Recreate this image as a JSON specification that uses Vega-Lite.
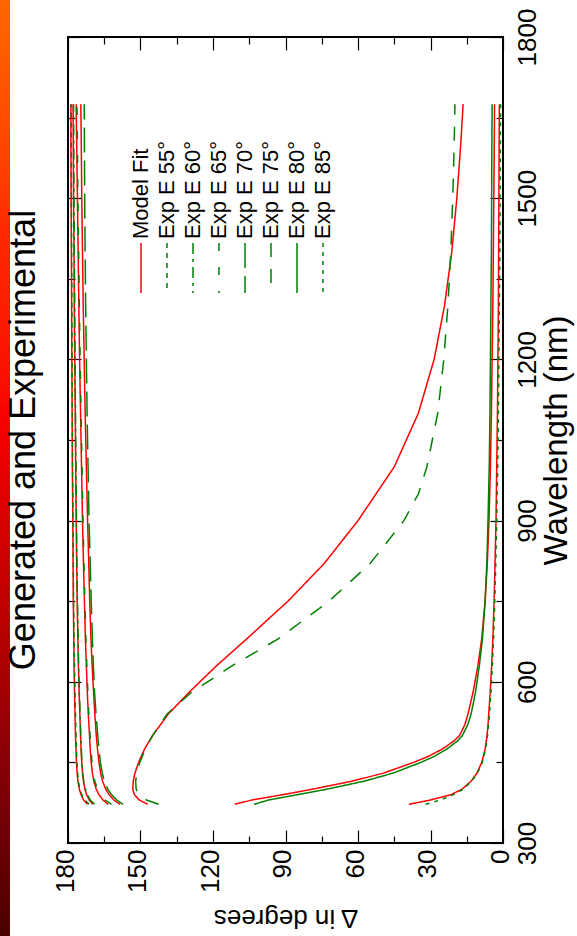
{
  "$schema": "https://vega.github.io/schema/vega-lite/v6.json",
  "width": 435,
  "height": 806,
  "autosize": "none",
  "padding": {"left": 68, "top": 37, "right": 74, "bottom": 93},
  "background": "white",
  "title": {"text": "Generated and Experimental", "orient": "left", "anchor": "middle", "frame": "group", "font": "Liberation Sans", "fontSize": 36, "fontWeight": "normal", "color": "black", "offset": -56, "dy": -13},
  "config": {
    "view": {"stroke": "black", "strokeWidth": 2},
    "font": "Liberation Sans",
    "axis": {"grid": false, "domain": false, "tickColor": "black", "tickWidth": 1.2, "labelFont": "Liberation Sans", "labelColor": "black", "titleFont": "Liberation Sans", "titleColor": "black", "titleFontWeight": "normal"},
    "legend": {"labelFont": "Liberation Sans", "labelColor": "black"}
  },
  "datasets": {
    "curves": [
      {"s":"Model Fit","a":55,"w":372,"d":172.0},{"s":"Model Fit","a":55,"w":380,"d":173.5},{"s":"Model Fit","a":55,"w":390,"d":174.6},{"s":"Model Fit","a":55,"w":400,"d":175.3},{"s":"Model Fit","a":55,"w":415,"d":175.9},{"s":"Model Fit","a":55,"w":430,"d":176.2},{"s":"Model Fit","a":55,"w":450,"d":176.5},{"s":"Model Fit","a":55,"w":475,"d":176.7},{"s":"Model Fit","a":55,"w":500,"d":176.9},{"s":"Model Fit","a":55,"w":540,"d":177.1},{"s":"Model Fit","a":55,"w":580,"d":177.3},{"s":"Model Fit","a":55,"w":630,"d":177.5},{"s":"Model Fit","a":55,"w":680,"d":177.6},{"s":"Model Fit","a":55,"w":750,"d":177.8},{"s":"Model Fit","a":55,"w":820,"d":177.9},{"s":"Model Fit","a":55,"w":900,"d":178.0},{"s":"Model Fit","a":55,"w":1000,"d":178.2},{"s":"Model Fit","a":55,"w":1100,"d":178.3},{"s":"Model Fit","a":55,"w":1200,"d":178.4},{"s":"Model Fit","a":55,"w":1300,"d":178.5},{"s":"Model Fit","a":55,"w":1400,"d":178.6},{"s":"Model Fit","a":55,"w":1500,"d":178.7},{"s":"Model Fit","a":55,"w":1600,"d":178.8},{"s":"Model Fit","a":55,"w":1675,"d":178.8},
      {"s":"Model Fit","a":60,"w":372,"d":169.7},{"s":"Model Fit","a":60,"w":380,"d":171.2},{"s":"Model Fit","a":60,"w":390,"d":172.3},{"s":"Model Fit","a":60,"w":400,"d":173.0},{"s":"Model Fit","a":60,"w":415,"d":173.6},{"s":"Model Fit","a":60,"w":430,"d":174.0},{"s":"Model Fit","a":60,"w":450,"d":174.3},{"s":"Model Fit","a":60,"w":475,"d":174.6},{"s":"Model Fit","a":60,"w":500,"d":174.8},{"s":"Model Fit","a":60,"w":540,"d":175.1},{"s":"Model Fit","a":60,"w":580,"d":175.4},{"s":"Model Fit","a":60,"w":630,"d":175.7},{"s":"Model Fit","a":60,"w":680,"d":175.9},{"s":"Model Fit","a":60,"w":750,"d":176.2},{"s":"Model Fit","a":60,"w":820,"d":176.4},{"s":"Model Fit","a":60,"w":900,"d":176.6},{"s":"Model Fit","a":60,"w":1000,"d":176.8},{"s":"Model Fit","a":60,"w":1100,"d":177.0},{"s":"Model Fit","a":60,"w":1200,"d":177.2},{"s":"Model Fit","a":60,"w":1300,"d":177.4},{"s":"Model Fit","a":60,"w":1400,"d":177.5},{"s":"Model Fit","a":60,"w":1500,"d":177.7},{"s":"Model Fit","a":60,"w":1600,"d":177.8},{"s":"Model Fit","a":60,"w":1675,"d":177.9},
      {"s":"Model Fit","a":65,"w":372,"d":163.4},{"s":"Model Fit","a":65,"w":380,"d":165.5},{"s":"Model Fit","a":65,"w":390,"d":167.2},{"s":"Model Fit","a":65,"w":400,"d":168.3},{"s":"Model Fit","a":65,"w":415,"d":169.3},{"s":"Model Fit","a":65,"w":430,"d":169.9},{"s":"Model Fit","a":65,"w":450,"d":170.4},{"s":"Model Fit","a":65,"w":475,"d":170.8},{"s":"Model Fit","a":65,"w":500,"d":171.1},{"s":"Model Fit","a":65,"w":540,"d":171.6},{"s":"Model Fit","a":65,"w":580,"d":172.0},{"s":"Model Fit","a":65,"w":630,"d":172.4},{"s":"Model Fit","a":65,"w":680,"d":172.8},{"s":"Model Fit","a":65,"w":750,"d":173.2},{"s":"Model Fit","a":65,"w":820,"d":173.6},{"s":"Model Fit","a":65,"w":900,"d":174.0},{"s":"Model Fit","a":65,"w":1000,"d":174.4},{"s":"Model Fit","a":65,"w":1100,"d":174.8},{"s":"Model Fit","a":65,"w":1200,"d":175.2},{"s":"Model Fit","a":65,"w":1300,"d":175.5},{"s":"Model Fit","a":65,"w":1400,"d":175.8},{"s":"Model Fit","a":65,"w":1500,"d":176.1},{"s":"Model Fit","a":65,"w":1600,"d":176.4},{"s":"Model Fit","a":65,"w":1675,"d":176.6},
      {"s":"Model Fit","a":70,"w":372,"d":158.5},{"s":"Model Fit","a":70,"w":380,"d":161.0},{"s":"Model Fit","a":70,"w":390,"d":163.0},{"s":"Model Fit","a":70,"w":400,"d":164.4},{"s":"Model Fit","a":70,"w":415,"d":165.7},{"s":"Model Fit","a":70,"w":430,"d":166.5},{"s":"Model Fit","a":70,"w":450,"d":167.2},{"s":"Model Fit","a":70,"w":475,"d":167.8},{"s":"Model Fit","a":70,"w":500,"d":168.3},{"s":"Model Fit","a":70,"w":540,"d":168.9},{"s":"Model Fit","a":70,"w":580,"d":169.4},{"s":"Model Fit","a":70,"w":630,"d":170.0},{"s":"Model Fit","a":70,"w":680,"d":170.5},{"s":"Model Fit","a":70,"w":750,"d":171.0},{"s":"Model Fit","a":70,"w":820,"d":171.4},{"s":"Model Fit","a":70,"w":900,"d":171.9},{"s":"Model Fit","a":70,"w":1000,"d":172.4},{"s":"Model Fit","a":70,"w":1100,"d":172.9},{"s":"Model Fit","a":70,"w":1200,"d":173.3},{"s":"Model Fit","a":70,"w":1300,"d":173.7},{"s":"Model Fit","a":70,"w":1400,"d":174.0},{"s":"Model Fit","a":70,"w":1500,"d":174.3},{"s":"Model Fit","a":70,"w":1600,"d":174.5},{"s":"Model Fit","a":70,"w":1675,"d":174.7},
      {"s":"Model Fit","a":75,"w":372,"d":147.0},{"s":"Model Fit","a":75,"w":380,"d":150.5},{"s":"Model Fit","a":75,"w":390,"d":152.5},{"s":"Model Fit","a":75,"w":400,"d":153.2},{"s":"Model Fit","a":75,"w":415,"d":153.0},{"s":"Model Fit","a":75,"w":430,"d":152.3},{"s":"Model Fit","a":75,"w":450,"d":150.8},{"s":"Model Fit","a":75,"w":475,"d":148.3},{"s":"Model Fit","a":75,"w":500,"d":145.0},{"s":"Model Fit","a":75,"w":540,"d":138.5},{"s":"Model Fit","a":75,"w":580,"d":130.0},{"s":"Model Fit","a":75,"w":630,"d":118.5},{"s":"Model Fit","a":75,"w":680,"d":106.0},{"s":"Model Fit","a":75,"w":750,"d":89.0},{"s":"Model Fit","a":75,"w":820,"d":74.0},{"s":"Model Fit","a":75,"w":900,"d":60.0},{"s":"Model Fit","a":75,"w":1000,"d":45.0},{"s":"Model Fit","a":75,"w":1100,"d":35.0},{"s":"Model Fit","a":75,"w":1200,"d":28.5},{"s":"Model Fit","a":75,"w":1300,"d":24.2},{"s":"Model Fit","a":75,"w":1400,"d":21.2},{"s":"Model Fit","a":75,"w":1500,"d":19.1},{"s":"Model Fit","a":75,"w":1600,"d":17.5},{"s":"Model Fit","a":75,"w":1675,"d":16.5},
      {"s":"Model Fit","a":80,"w":372,"d":111.0},{"s":"Model Fit","a":80,"w":380,"d":104.0},{"s":"Model Fit","a":80,"w":390,"d":91.0},{"s":"Model Fit","a":80,"w":400,"d":79.0},{"s":"Model Fit","a":80,"w":415,"d":62.5},{"s":"Model Fit","a":80,"w":430,"d":49.5},{"s":"Model Fit","a":80,"w":450,"d":37.0},{"s":"Model Fit","a":80,"w":460,"d":31.5},{"s":"Model Fit","a":80,"w":475,"d":25.0},{"s":"Model Fit","a":80,"w":490,"d":20.3},{"s":"Model Fit","a":80,"w":500,"d":18.0},{"s":"Model Fit","a":80,"w":520,"d":15.8},{"s":"Model Fit","a":80,"w":540,"d":14.5},{"s":"Model Fit","a":80,"w":580,"d":12.4},{"s":"Model Fit","a":80,"w":630,"d":10.4},{"s":"Model Fit","a":80,"w":680,"d":8.8},{"s":"Model Fit","a":80,"w":750,"d":7.4},{"s":"Model Fit","a":80,"w":820,"d":6.5},{"s":"Model Fit","a":80,"w":900,"d":5.8},{"s":"Model Fit","a":80,"w":1000,"d":5.2},{"s":"Model Fit","a":80,"w":1100,"d":4.8},{"s":"Model Fit","a":80,"w":1200,"d":4.5},{"s":"Model Fit","a":80,"w":1300,"d":4.2},{"s":"Model Fit","a":80,"w":1400,"d":4.0},{"s":"Model Fit","a":80,"w":1500,"d":3.8},{"s":"Model Fit","a":80,"w":1600,"d":3.6},{"s":"Model Fit","a":80,"w":1675,"d":3.5},
      {"s":"Model Fit","a":85,"w":372,"d":39.0},{"s":"Model Fit","a":85,"w":380,"d":30.0},{"s":"Model Fit","a":85,"w":390,"d":21.5},{"s":"Model Fit","a":85,"w":400,"d":17.0},{"s":"Model Fit","a":85,"w":415,"d":13.2},{"s":"Model Fit","a":85,"w":430,"d":10.8},{"s":"Model Fit","a":85,"w":450,"d":8.8},{"s":"Model Fit","a":85,"w":460,"d":8.2},{"s":"Model Fit","a":85,"w":475,"d":7.4},{"s":"Model Fit","a":85,"w":490,"d":6.9},{"s":"Model Fit","a":85,"w":500,"d":6.6},{"s":"Model Fit","a":85,"w":520,"d":6.2},{"s":"Model Fit","a":85,"w":540,"d":5.9},{"s":"Model Fit","a":85,"w":580,"d":5.3},{"s":"Model Fit","a":85,"w":630,"d":4.7},{"s":"Model Fit","a":85,"w":680,"d":4.2},{"s":"Model Fit","a":85,"w":750,"d":3.7},{"s":"Model Fit","a":85,"w":820,"d":3.3},{"s":"Model Fit","a":85,"w":900,"d":2.9},{"s":"Model Fit","a":85,"w":1000,"d":2.6},{"s":"Model Fit","a":85,"w":1100,"d":2.3},{"s":"Model Fit","a":85,"w":1200,"d":2.1},{"s":"Model Fit","a":85,"w":1300,"d":1.9},{"s":"Model Fit","a":85,"w":1400,"d":1.8},{"s":"Model Fit","a":85,"w":1500,"d":1.7},{"s":"Model Fit","a":85,"w":1600,"d":1.6},{"s":"Model Fit","a":85,"w":1675,"d":1.5},
      {"s":"Exp E 55°","a":55,"w":372,"d":171.3},{"s":"Exp E 55°","a":55,"w":380,"d":173.0},{"s":"Exp E 55°","a":55,"w":390,"d":174.3},{"s":"Exp E 55°","a":55,"w":400,"d":175.1},{"s":"Exp E 55°","a":55,"w":415,"d":175.7},{"s":"Exp E 55°","a":55,"w":430,"d":176.0},{"s":"Exp E 55°","a":55,"w":450,"d":176.3},{"s":"Exp E 55°","a":55,"w":475,"d":176.5},{"s":"Exp E 55°","a":55,"w":500,"d":176.7},{"s":"Exp E 55°","a":55,"w":540,"d":176.9},{"s":"Exp E 55°","a":55,"w":580,"d":177.1},{"s":"Exp E 55°","a":55,"w":630,"d":177.3},{"s":"Exp E 55°","a":55,"w":680,"d":177.5},{"s":"Exp E 55°","a":55,"w":750,"d":177.7},{"s":"Exp E 55°","a":55,"w":820,"d":177.8},{"s":"Exp E 55°","a":55,"w":900,"d":177.9},{"s":"Exp E 55°","a":55,"w":1000,"d":178.1},{"s":"Exp E 55°","a":55,"w":1100,"d":178.2},{"s":"Exp E 55°","a":55,"w":1200,"d":178.3},{"s":"Exp E 55°","a":55,"w":1300,"d":178.4},{"s":"Exp E 55°","a":55,"w":1400,"d":178.5},{"s":"Exp E 55°","a":55,"w":1500,"d":178.6},{"s":"Exp E 55°","a":55,"w":1600,"d":178.6},{"s":"Exp E 55°","a":55,"w":1675,"d":178.7},
      {"s":"Exp E 60°","a":60,"w":372,"d":169.0},{"s":"Exp E 60°","a":60,"w":380,"d":170.8},{"s":"Exp E 60°","a":60,"w":390,"d":172.0},{"s":"Exp E 60°","a":60,"w":400,"d":172.8},{"s":"Exp E 60°","a":60,"w":415,"d":173.5},{"s":"Exp E 60°","a":60,"w":430,"d":173.9},{"s":"Exp E 60°","a":60,"w":450,"d":174.2},{"s":"Exp E 60°","a":60,"w":475,"d":174.5},{"s":"Exp E 60°","a":60,"w":500,"d":174.7},{"s":"Exp E 60°","a":60,"w":540,"d":175.0},{"s":"Exp E 60°","a":60,"w":580,"d":175.3},{"s":"Exp E 60°","a":60,"w":630,"d":175.6},{"s":"Exp E 60°","a":60,"w":680,"d":175.8},{"s":"Exp E 60°","a":60,"w":750,"d":176.1},{"s":"Exp E 60°","a":60,"w":820,"d":176.3},{"s":"Exp E 60°","a":60,"w":900,"d":176.5},{"s":"Exp E 60°","a":60,"w":1000,"d":176.7},{"s":"Exp E 60°","a":60,"w":1100,"d":176.9},{"s":"Exp E 60°","a":60,"w":1200,"d":177.1},{"s":"Exp E 60°","a":60,"w":1300,"d":177.2},{"s":"Exp E 60°","a":60,"w":1400,"d":177.4},{"s":"Exp E 60°","a":60,"w":1500,"d":177.5},{"s":"Exp E 60°","a":60,"w":1600,"d":177.6},{"s":"Exp E 60°","a":60,"w":1675,"d":177.7},
      {"s":"Exp E 65°","a":65,"w":372,"d":162.0},{"s":"Exp E 65°","a":65,"w":380,"d":164.6},{"s":"Exp E 65°","a":65,"w":390,"d":166.6},{"s":"Exp E 65°","a":65,"w":400,"d":167.8},{"s":"Exp E 65°","a":65,"w":415,"d":168.9},{"s":"Exp E 65°","a":65,"w":430,"d":169.6},{"s":"Exp E 65°","a":65,"w":450,"d":170.1},{"s":"Exp E 65°","a":65,"w":475,"d":170.5},{"s":"Exp E 65°","a":65,"w":500,"d":170.9},{"s":"Exp E 65°","a":65,"w":540,"d":171.4},{"s":"Exp E 65°","a":65,"w":580,"d":171.8},{"s":"Exp E 65°","a":65,"w":630,"d":172.2},{"s":"Exp E 65°","a":65,"w":680,"d":172.6},{"s":"Exp E 65°","a":65,"w":750,"d":173.0},{"s":"Exp E 65°","a":65,"w":820,"d":173.4},{"s":"Exp E 65°","a":65,"w":900,"d":173.8},{"s":"Exp E 65°","a":65,"w":1000,"d":174.2},{"s":"Exp E 65°","a":65,"w":1100,"d":174.6},{"s":"Exp E 65°","a":65,"w":1200,"d":175.0},{"s":"Exp E 65°","a":65,"w":1300,"d":175.3},{"s":"Exp E 65°","a":65,"w":1400,"d":175.6},{"s":"Exp E 65°","a":65,"w":1500,"d":175.9},{"s":"Exp E 65°","a":65,"w":1600,"d":176.1},{"s":"Exp E 65°","a":65,"w":1675,"d":176.3},
      {"s":"Exp E 70°","a":70,"w":372,"d":157.2},{"s":"Exp E 70°","a":70,"w":380,"d":159.8},{"s":"Exp E 70°","a":70,"w":390,"d":162.0},{"s":"Exp E 70°","a":70,"w":400,"d":163.5},{"s":"Exp E 70°","a":70,"w":415,"d":164.9},{"s":"Exp E 70°","a":70,"w":430,"d":165.8},{"s":"Exp E 70°","a":70,"w":450,"d":166.6},{"s":"Exp E 70°","a":70,"w":475,"d":167.2},{"s":"Exp E 70°","a":70,"w":500,"d":167.7},{"s":"Exp E 70°","a":70,"w":540,"d":168.4},{"s":"Exp E 70°","a":70,"w":580,"d":169.0},{"s":"Exp E 70°","a":70,"w":630,"d":169.5},{"s":"Exp E 70°","a":70,"w":680,"d":169.9},{"s":"Exp E 70°","a":70,"w":750,"d":170.4},{"s":"Exp E 70°","a":70,"w":820,"d":170.8},{"s":"Exp E 70°","a":70,"w":900,"d":171.3},{"s":"Exp E 70°","a":70,"w":1000,"d":171.7},{"s":"Exp E 70°","a":70,"w":1100,"d":172.1},{"s":"Exp E 70°","a":70,"w":1200,"d":172.4},{"s":"Exp E 70°","a":70,"w":1300,"d":172.7},{"s":"Exp E 70°","a":70,"w":1400,"d":172.9},{"s":"Exp E 70°","a":70,"w":1500,"d":173.1},{"s":"Exp E 70°","a":70,"w":1600,"d":173.2},{"s":"Exp E 70°","a":70,"w":1675,"d":173.3},
      {"s":"Exp E 75°","a":75,"w":372,"d":142.5},{"s":"Exp E 75°","a":75,"w":380,"d":147.5},{"s":"Exp E 75°","a":75,"w":390,"d":150.5},{"s":"Exp E 75°","a":75,"w":400,"d":151.8},{"s":"Exp E 75°","a":75,"w":415,"d":152.0},{"s":"Exp E 75°","a":75,"w":430,"d":151.5},{"s":"Exp E 75°","a":75,"w":450,"d":150.3},{"s":"Exp E 75°","a":75,"w":475,"d":148.0},{"s":"Exp E 75°","a":75,"w":500,"d":145.0},{"s":"Exp E 75°","a":75,"w":540,"d":139.0},{"s":"Exp E 75°","a":75,"w":580,"d":129.0},{"s":"Exp E 75°","a":75,"w":630,"d":112.0},{"s":"Exp E 75°","a":75,"w":680,"d":93.0},{"s":"Exp E 75°","a":75,"w":750,"d":72.0},{"s":"Exp E 75°","a":75,"w":820,"d":55.0},{"s":"Exp E 75°","a":75,"w":900,"d":41.0},{"s":"Exp E 75°","a":75,"w":950,"d":35.0},{"s":"Exp E 75°","a":75,"w":1000,"d":31.5},{"s":"Exp E 75°","a":75,"w":1100,"d":27.0},{"s":"Exp E 75°","a":75,"w":1200,"d":24.5},{"s":"Exp E 75°","a":75,"w":1300,"d":22.8},{"s":"Exp E 75°","a":75,"w":1400,"d":21.6},{"s":"Exp E 75°","a":75,"w":1500,"d":20.8},{"s":"Exp E 75°","a":75,"w":1600,"d":20.2},{"s":"Exp E 75°","a":75,"w":1675,"d":19.9},
      {"s":"Exp E 80°","a":80,"w":372,"d":103.0},{"s":"Exp E 80°","a":80,"w":380,"d":97.0},{"s":"Exp E 80°","a":80,"w":390,"d":85.0},{"s":"Exp E 80°","a":80,"w":400,"d":73.0},{"s":"Exp E 80°","a":80,"w":415,"d":57.5},{"s":"Exp E 80°","a":80,"w":430,"d":45.5},{"s":"Exp E 80°","a":80,"w":450,"d":34.0},{"s":"Exp E 80°","a":80,"w":460,"d":29.0},{"s":"Exp E 80°","a":80,"w":475,"d":23.2},{"s":"Exp E 80°","a":80,"w":490,"d":18.8},{"s":"Exp E 80°","a":80,"w":500,"d":16.8},{"s":"Exp E 80°","a":80,"w":520,"d":14.6},{"s":"Exp E 80°","a":80,"w":540,"d":13.2},{"s":"Exp E 80°","a":80,"w":580,"d":11.4},{"s":"Exp E 80°","a":80,"w":630,"d":9.8},{"s":"Exp E 80°","a":80,"w":680,"d":8.5},{"s":"Exp E 80°","a":80,"w":750,"d":7.4},{"s":"Exp E 80°","a":80,"w":820,"d":6.7},{"s":"Exp E 80°","a":80,"w":900,"d":6.2},{"s":"Exp E 80°","a":80,"w":1000,"d":5.7},{"s":"Exp E 80°","a":80,"w":1100,"d":5.4},{"s":"Exp E 80°","a":80,"w":1200,"d":5.2},{"s":"Exp E 80°","a":80,"w":1300,"d":5.0},{"s":"Exp E 80°","a":80,"w":1400,"d":4.8},{"s":"Exp E 80°","a":80,"w":1500,"d":4.7},{"s":"Exp E 80°","a":80,"w":1600,"d":4.6},{"s":"Exp E 80°","a":80,"w":1675,"d":4.5},
      {"s":"Exp E 85°","a":85,"w":372,"d":32.0},{"s":"Exp E 85°","a":85,"w":380,"d":26.0},{"s":"Exp E 85°","a":85,"w":390,"d":20.5},{"s":"Exp E 85°","a":85,"w":400,"d":16.5},{"s":"Exp E 85°","a":85,"w":415,"d":13.0},{"s":"Exp E 85°","a":85,"w":430,"d":10.6},{"s":"Exp E 85°","a":85,"w":450,"d":8.6},{"s":"Exp E 85°","a":85,"w":460,"d":8.0},{"s":"Exp E 85°","a":85,"w":475,"d":7.2},{"s":"Exp E 85°","a":85,"w":490,"d":6.7},{"s":"Exp E 85°","a":85,"w":500,"d":6.4},{"s":"Exp E 85°","a":85,"w":520,"d":6.0},{"s":"Exp E 85°","a":85,"w":540,"d":5.6},{"s":"Exp E 85°","a":85,"w":580,"d":5.0},{"s":"Exp E 85°","a":85,"w":630,"d":4.4},{"s":"Exp E 85°","a":85,"w":680,"d":3.9},{"s":"Exp E 85°","a":85,"w":750,"d":3.4},{"s":"Exp E 85°","a":85,"w":820,"d":3.0},{"s":"Exp E 85°","a":85,"w":900,"d":2.6},{"s":"Exp E 85°","a":85,"w":1000,"d":2.2},{"s":"Exp E 85°","a":85,"w":1100,"d":1.9},{"s":"Exp E 85°","a":85,"w":1200,"d":1.7},{"s":"Exp E 85°","a":85,"w":1300,"d":1.5},{"s":"Exp E 85°","a":85,"w":1400,"d":1.3},{"s":"Exp E 85°","a":85,"w":1500,"d":1.2},{"s":"Exp E 85°","a":85,"w":1600,"d":1.1},{"s":"Exp E 85°","a":85,"w":1675,"d":1.0}
    ]
  },
  "data": {"name": "curves"},
  "layer": [
    {
      "mark": {"type": "line", "strokeWidth": 1.5},
      "encoding": {
        "x": {"field": "d", "type": "quantitative", "scale": {"domain": [0, 180], "reverse": true, "nice": false, "zero": false},
              "axis": {"orient": "bottom", "values": [0, 30, 60, 90, 120, 150, 180], "format": "d", "tickSize": -13, "labelAngle": 270, "labelFontSize": 26, "labelPadding": 19, "labelOffset": -3,
                       "title": "Δ in degrees", "titleFontSize": 26, "titleAngle": 180, "titleBaseline": "bottom", "titlePadding": 12}},
        "y": {"field": "w", "type": "quantitative", "scale": {"domain": [300, 1800], "nice": false, "zero": false},
              "axis": {"orient": "right", "values": [300, 600, 900, 1200, 1500, 1800], "format": "d", "tickSize": -13, "labelAngle": 270, "labelAlign": "center", "labelBaseline": "top", "labelFontSize": 26, "labelPadding": 24,
                       "title": "Wavelength (nm)", "titleFontSize": 33, "titleAngle": 270, "titleBaseline": "top", "titlePadding": 0}},
        "color": {"field": "s", "type": "nominal",
                  "scale": {"domain": ["Model Fit", "Exp E 55°", "Exp E 60°", "Exp E 65°", "Exp E 70°", "Exp E 75°", "Exp E 80°", "Exp E 85°"],
                            "range": ["#ff0000", "#008000", "#008000", "#008000", "#008000", "#008000", "#008000", "#008000"]},
                  "legend": {"orient": "none", "legendX": 73, "legendY": 202, "direction": "horizontal", "columns": 8, "columnPadding": 3, "rowPadding": 0, "padding": 0, "title": null,
                             "labelFontSize": 22, "labelAlign": "left", "labelBaseline": "middle",
                             "labelExpr": "datum.label == 'Model Fit' ? 'Model Fit ' : datum.label",
                             "symbolType": "M0,-1L0,1", "symbolSize": 2500, "symbolStrokeWidth": 1.5,
                             "encoding": {
                               "labels": {"angle": {"value": -90}, "x": {"value": 0}, "y": {"value": 0}},
                               "symbols": {"x": {"value": 0}, "y": {"value": 29}}
                             }}},
        "strokeDash": {"field": "s", "type": "nominal",
                       "scale": {"domain": ["Model Fit", "Exp E 55°", "Exp E 60°", "Exp E 65°", "Exp E 70°", "Exp E 75°", "Exp E 80°", "Exp E 85°"],
                                 "range": [[1, 0], [5, 5], [11, 5, 3, 5], [8, 16], [25, 8], [14, 12], [1, 0], [4, 5]]}},
        "detail": {"field": "a", "type": "nominal"},
        "order": {"field": "w", "type": "quantitative"}
      }
    },
    {
      "transform": [{"filter": "false"}],
      "mark": "line",
      "encoding": {
        "x": {"field": "d", "type": "quantitative", "axis": {"orient": "bottom", "values": [15, 45, 75, 105, 135, 165], "tickSize": -7, "labels": false, "title": null}},
        "y": {"field": "w", "type": "quantitative", "axis": {"orient": "right", "values": [450, 750, 1050, 1350, 1650], "tickSize": -7, "labels": false, "title": null}}
      }
    },
    {
      "transform": [{"filter": "false"}],
      "mark": "line",
      "encoding": {
        "x": {"field": "d", "type": "quantitative", "axis": {"orient": "top", "values": [0, 30, 60, 90, 120, 150, 180], "tickSize": -13, "labels": false, "title": null}},
        "y": {"field": "w", "type": "quantitative", "axis": {"orient": "left", "values": [300, 600, 900, 1200, 1500, 1800], "tickSize": -13, "labels": false, "title": null}}
      }
    },
    {
      "transform": [{"filter": "false"}],
      "mark": "line",
      "encoding": {
        "x": {"field": "d", "type": "quantitative", "axis": {"orient": "top", "values": [15, 45, 75, 105, 135, 165], "tickSize": -7, "labels": false, "title": null}},
        "y": {"field": "w", "type": "quantitative", "axis": {"orient": "left", "values": [450, 750, 1050, 1350, 1650], "tickSize": -7, "labels": false, "title": null}}
      }
    },
    {
      "transform": [{"filter": "false"}],
      "mark": "rect",
      "encoding": {
        "fill": {"field": "g", "type": "quantitative",
                 "scale": {"domain": [0, 0.3, 0.55, 0.75, 1], "range": ["#4a0000", "#b00000", "#f80000", "#ff2800", "#ff6600"]},
                 "legend": {"orient": "none", "legendX": -68, "legendY": -37, "direction": "vertical", "gradientLength": 936, "gradientThickness": 10,
                            "title": null, "labelExpr": "''", "labelOpacity": 0, "padding": 0, "gradientStrokeWidth": 0}}
      }
    }
  ],
  "resolve": {"axis": {"x": "independent", "y": "independent"}}
}
